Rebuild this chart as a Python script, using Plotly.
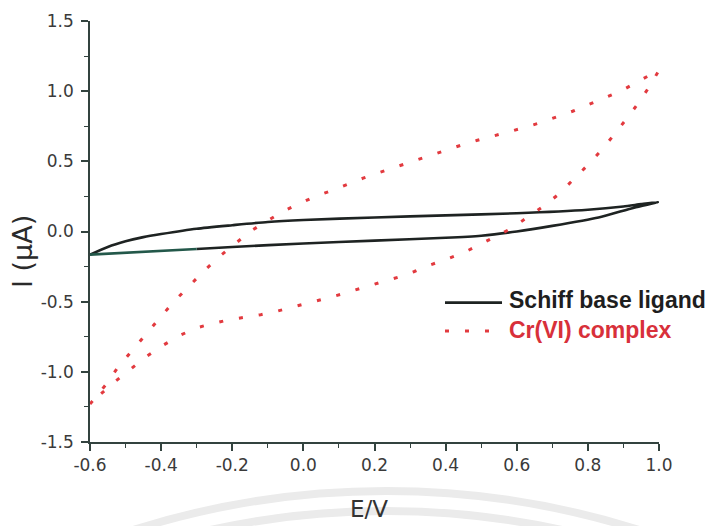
import plotly.graph_objects as go

# Cyclic voltammograms, potential E (V) vs current I (µA)

# Schiff base ligand: forward scan (-0.6 -> 1.0) then reverse scan (1.0 -> -0.6)
ligand_fwd_e = [-0.6, -0.55, -0.5, -0.45, -0.4, -0.3, -0.2, -0.1, 0.0, 0.2, 0.4, 0.6, 0.8, 0.9, 0.95, 1.0]
ligand_fwd_i = [-0.165, -0.11, -0.07, -0.04, -0.018, 0.02, 0.045, 0.068, 0.082, 0.10, 0.115, 0.13, 0.155, 0.178, 0.195, 0.21]
ligand_rev_e = [1.0, 0.93, 0.83, 0.7, 0.6, 0.5, 0.4, 0.2, 0.0, -0.2, -0.3]
ligand_rev_i = [0.21, 0.17, 0.10, 0.04, 0.0, -0.03, -0.045, -0.065, -0.085, -0.11, -0.125]
# tail of the reverse scan (drawn in a slightly greener ink)
ligand_tail_e = [-0.3, -0.4, -0.5, -0.6]
ligand_tail_i = [-0.125, -0.14, -0.152, -0.165]

# Cr(VI) complex: forward scan then reverse scan
complex_fwd_e = [-0.6, -0.555, -0.522, -0.483, -0.445, -0.405, -0.366, -0.322, -0.281, -0.236,
                 -0.19, -0.147, -0.1, -0.056, -0.012, 0.033, 0.078, 0.122, 0.168, 0.213,
                 0.26, 0.307, 0.351, 0.398, 0.442, 0.487, 0.532, 0.578, 0.623, 0.667,
                 0.712, 0.757, 0.801, 0.846, 0.892, 0.937, 0.986, 1.0]
complex_fwd_i = [-1.23, -1.09, -0.97, -0.852, -0.733, -0.62, -0.505, -0.389, -0.285, -0.178,
                 -0.083, 0.005, 0.078, 0.145, 0.197, 0.25, 0.29, 0.335, 0.38, 0.42,
                 0.46, 0.50, 0.539, 0.576, 0.614, 0.648, 0.678, 0.712, 0.742, 0.776,
                 0.814, 0.857, 0.904, 0.952, 1.0, 1.063, 1.13, 1.15]
complex_rev_e = [1.0, 0.979, 0.95, 0.916, 0.881, 0.844, 0.801, 0.761, 0.719, 0.675,
                 0.628, 0.586, 0.539, 0.495, 0.45, 0.403, 0.358, 0.312, 0.267, 0.22,
                 0.15, 0.105, 0.059, 0.016, -0.028, -0.073, -0.12, -0.164, -0.209, -0.256,
                 -0.3, -0.347, -0.394, -0.441, -0.485, -0.53, -0.575, -0.6]
complex_rev_i = [1.15, 1.056, 0.944, 0.826, 0.712, 0.596, 0.477, 0.375, 0.268, 0.18,
                 0.097, 0.024, -0.038, -0.095, -0.152, -0.197, -0.237, -0.285, -0.325, -0.36,
                 -0.415, -0.448, -0.48, -0.51, -0.539, -0.567, -0.593, -0.61, -0.629, -0.657,
                 -0.686, -0.74, -0.81, -0.89, -0.977, -1.07, -1.17, -1.23]

x_tickvals = [-0.6, -0.4, -0.2, 0.0, 0.2, 0.4, 0.6, 0.8, 1.0]
x_ticktext = ["-0.6", "-0.4", "-0.2", "0.0", "0.2", "0.4", "0.6", "0.8", "1.0"]
y_tickvals = [-1.5, -1.0, -0.5, 0.0, 0.5, 1.0, 1.5]
y_ticktext = ["-1.5", "-1.0", "-0.5", "0.0", "0.5", "1.0", "1.5"]

series_names = ["Schiff base ligand", "Cr(VI) complex"]

BLACK = "#1e2322"
GREEN_INK = "#23584a"
RED = "#e23a3f"
AXIS = "#33433f"
DOTS = "4px,16px"
TICKFONT = dict(family="DejaVu Sans", size=17, color="#3a3a3a")

fig = go.Figure()

fig.add_trace(go.Scatter(
    x=ligand_fwd_e + ligand_rev_e[1:], y=ligand_fwd_i + ligand_rev_i[1:],
    mode="lines", line=dict(color=BLACK, width=2.6, shape="spline", smoothing=0.6),
    name=series_names[0], showlegend=False))
fig.add_trace(go.Scatter(
    x=ligand_tail_e, y=ligand_tail_i,
    mode="lines", line=dict(color=GREEN_INK, width=2.6),
    name=series_names[0], showlegend=False))
fig.add_trace(go.Scatter(
    x=complex_fwd_e + complex_rev_e[1:], y=complex_fwd_i + complex_rev_i[1:],
    mode="lines", line=dict(color=RED, width=3, dash=DOTS),
    name=series_names[1], showlegend=False))

# faint ring watermark behind the lower part of the figure
ring_shapes = []
for x0, x1, y0, y1 in [(-0.954, 1.995, -4.102, -0.1164), (-0.919, 1.9596, -4.055, -0.1639)]:
    ring_shapes.append(dict(type="circle", xref="paper", yref="paper",
                            x0=x0, x1=x1, y0=y0, y1=y1, layer="below",
                            line=dict(color="#ebebeb", width=8)))

# hand-placed legend
legend_shapes = [
    dict(type="line", xref="paper", yref="paper", x0=0.6239, x1=0.7241, y0=0.3309, y1=0.3309,
         line=dict(color=BLACK, width=2.8)),
    dict(type="line", xref="paper", yref="paper", x0=0.6239, x1=0.7241, y0=0.2637, y1=0.2637,
         line=dict(color=RED, width=3, dash=DOTS)),
]

annotations = [
    dict(text=series_names[0], xref="paper", yref="paper", x=0.7329, y=0.3373,
         xanchor="left", yanchor="middle", showarrow=False,
         font=dict(family="Liberation Sans", size=23, color="#1e1e1e", weight="bold")),
    dict(text=series_names[1], xref="paper", yref="paper", x=0.7329, y=0.2672,
         xanchor="left", yanchor="middle", showarrow=False,
         font=dict(family="Liberation Sans", size=23, color="#d8303a", weight="bold")),
    dict(text="E/V", xref="paper", yref="paper", x=0.49, y=-0.159,
         xanchor="center", yanchor="middle", showarrow=False,
         font=dict(family="DejaVu Sans", size=23, color="#333333")),
    dict(text="I (µA)", xref="paper", yref="paper", x=-0.1178, y=0.4537,
         xanchor="center", yanchor="middle", textangle=-90, showarrow=False,
         font=dict(family="DejaVu Sans", size=27, color="#2a2a2a")),
]

fig.update_layout(
    width=708, height=526,
    margin=dict(l=90, r=49, t=21, b=84),
    paper_bgcolor="white", plot_bgcolor="white",
    showlegend=False,
    shapes=ring_shapes + legend_shapes,
    annotations=annotations,
)

fig.update_xaxes(
    range=[-0.6, 1.0], tickvals=x_tickvals, ticktext=x_ticktext,
    showgrid=False, zeroline=False, showline=True, linecolor=AXIS, linewidth=1.6,
    ticks="outside", ticklen=7, tickwidth=1.6, tickcolor=AXIS, tickfont=TICKFONT,
    minor=dict(dtick=0.1, tick0=0.0, ticks="outside", ticklen=4, tickwidth=1.4, tickcolor=AXIS, showgrid=False),
)
fig.update_yaxes(
    range=[-1.5, 1.5], tickvals=y_tickvals, ticktext=y_ticktext,
    showgrid=False, zeroline=False, showline=True, linecolor=AXIS, linewidth=1.6,
    ticks="outside", ticklen=7, tickwidth=1.6, tickcolor=AXIS, tickfont=TICKFONT,
    ticklabelstandoff=4,
    minor=dict(dtick=0.25, tick0=0.0, ticks="outside", ticklen=4, tickwidth=1.4, tickcolor=AXIS, showgrid=False),
)

fig.write_html("out.html")
